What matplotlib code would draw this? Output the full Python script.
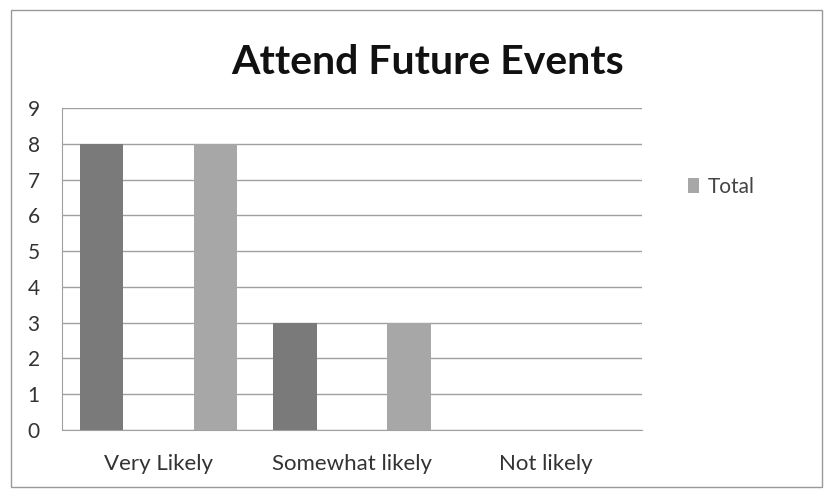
import matplotlib
matplotlib.use("Agg")
import matplotlib.pyplot as plt
import numpy as np
from matplotlib.patches import Rectangle

# chart data
categories = ["Very Likely", "Somewhat likely", "Not likely"]
totals = [8, 3, 0]
legend_label = "Total"

plt.rcParams['font.family'] = ['Lato', 'DejaVu Sans']

fig = plt.figure(figsize=(8.28, 4.92), dpi=100)
ax = fig.add_axes([62/828, 1 - 430/492, 580/828, 322/492])

x = np.arange(len(categories))
dark = ax.bar(x - 0.295, totals, width=0.225, color='#7a7a7a', zorder=3)
light = ax.bar(x + 0.295, totals, width=0.225, color='#a7a7a7', zorder=3,
               label=legend_label)

ax.set_xlim(-0.5, 2.5)
ax.set_ylim(0, 9)
ax.set_yticks(range(10))
ax.set_xticks(x)
ax.set_xticklabels(categories, fontsize=16, color='#333333')
ax.tick_params(axis='y', labelsize=15, colors='#333333', length=0, pad=16)
ax.tick_params(axis='x', length=0, pad=17)
ax.grid(axis='y', color='#a0a0a0', linewidth=1, zorder=0)

for s in ['top', 'right']:
    ax.spines[s].set_visible(False)
ax.spines['left'].set_color('#a0a0a0')
ax.spines['bottom'].set_color('#a0a0a0')

fig.text(428/828, 1 - 63/492, "Attend Future Events", fontsize=29.5,
         fontweight='bold', ha='center', va='center', color='#111111')

fig.legend(handles=[light], labels=[legend_label], loc='center left',
           bbox_to_anchor=(669/828, 1 - 187/492), frameon=False,
           fontsize=15, handlelength=0.55, handleheight=0.7, handletextpad=0.4,
           labelcolor='#444444')

fig.patches.append(Rectangle((11/828, 1 - 487/492), 811/828, 477/492,
                             transform=fig.transFigure, fill=False,
                             edgecolor='#999999', linewidth=1))

fig.savefig("out.png", dpi=100)
